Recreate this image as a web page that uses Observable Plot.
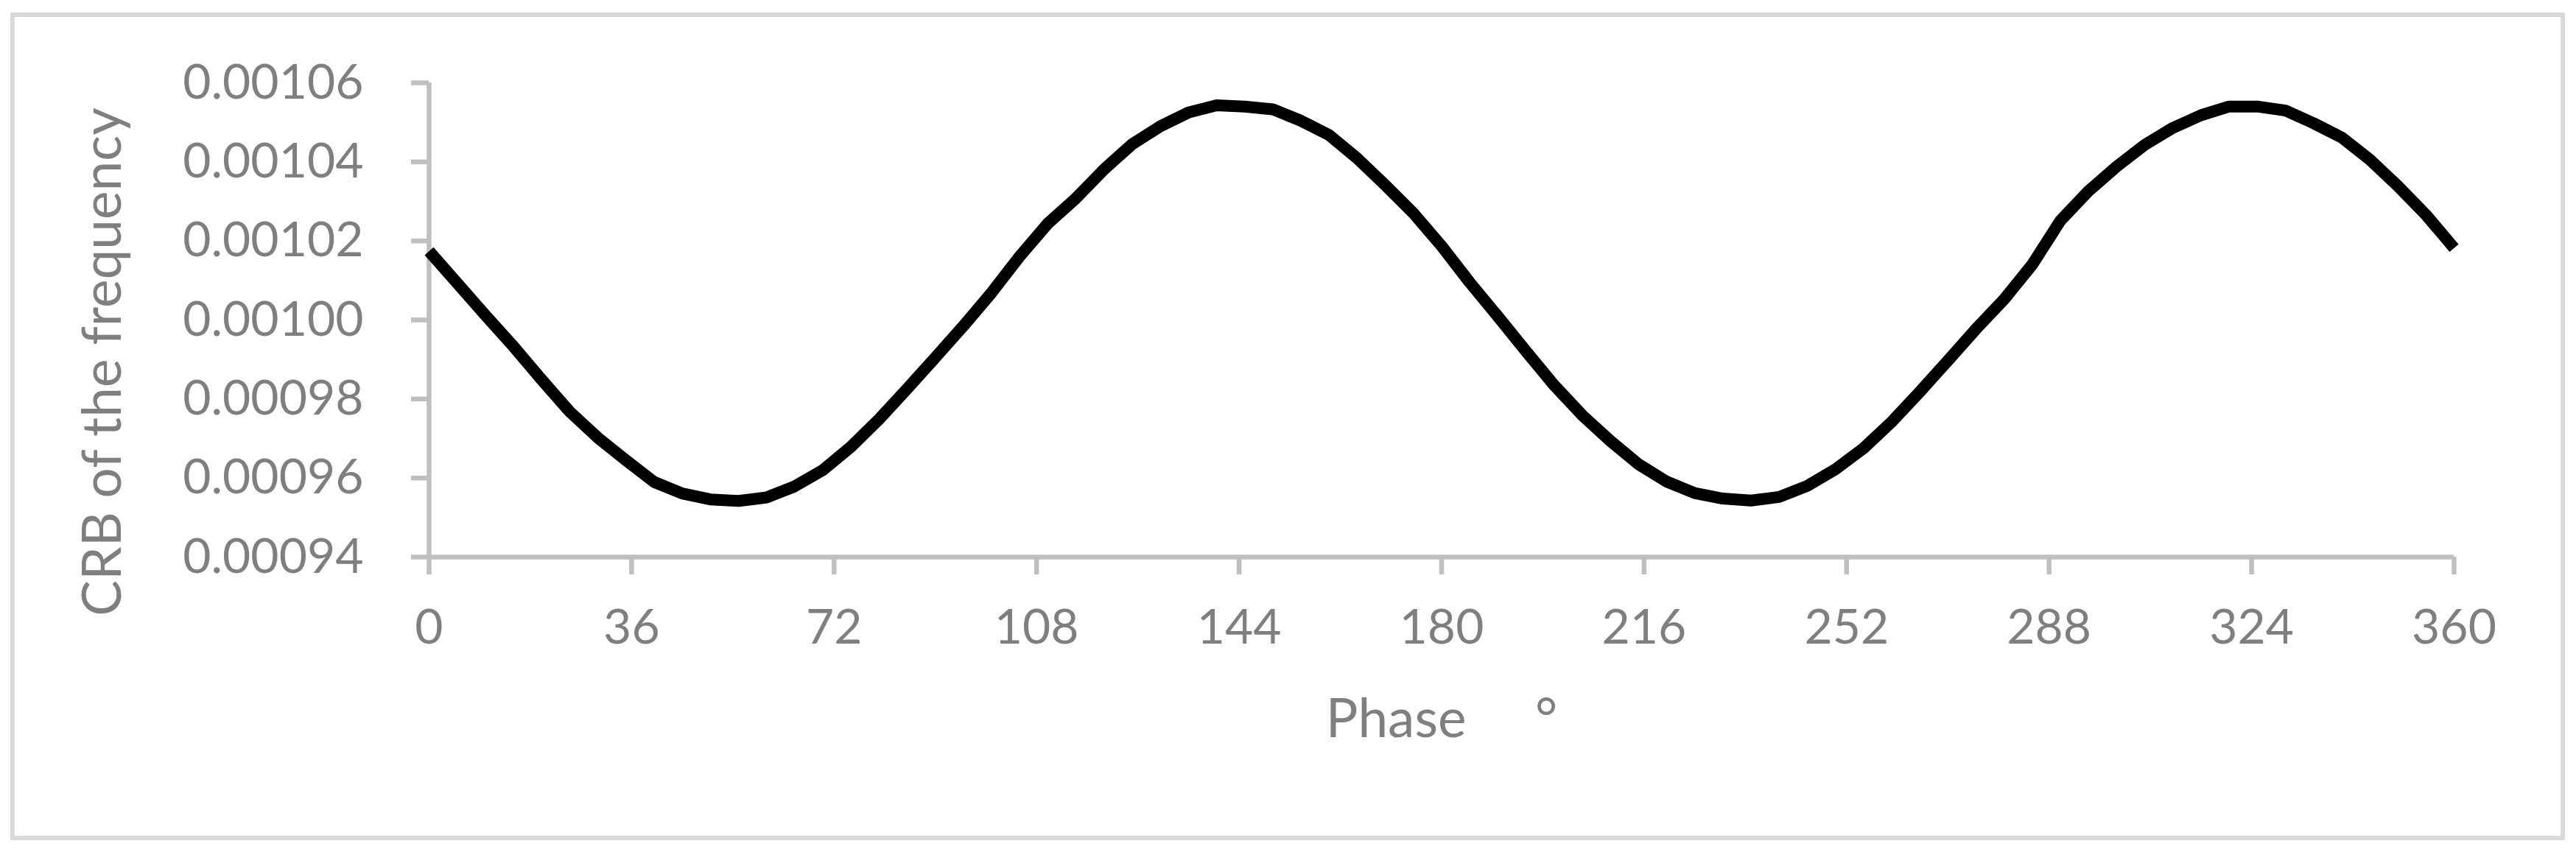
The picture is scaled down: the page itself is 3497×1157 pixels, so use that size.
<!DOCTYPE html>
<html>
<head>
<meta charset="utf-8">
<script src="https://cdn.jsdelivr.net/npm/d3@7"></script>
<script src="https://cdn.jsdelivr.net/npm/@observablehq/plot@0.6"></script>
<style>
html, body { margin: 0; padding: 0; background: #ffffff; }
#wrap { position: relative; width: 3497px; height: 1157px; overflow: hidden; }
#frame { position: absolute; left: 14px; top: 17px; width: 3468px; height: 1124px; box-sizing: border-box; border: 6.5px solid #d9d9d9; pointer-events: none; }
#chart { position: absolute; left: 0; top: 0; }
svg text { font-family: Lato, "Open Sans", sans-serif; white-space: pre; }
</style>
</head>
<body>
<div id="wrap"><div id="frame"></div><div id="chart"></div></div>
<script>
const phaseDeg = [0, 5, 10, 15, 20, 25, 30, 35, 40, 45, 50, 55, 60, 65, 70, 75, 80, 85, 90, 95,
  100, 105, 110, 115, 120, 125, 130, 135, 140, 145, 150, 155, 160, 165, 170, 175, 180, 185, 190, 195,
  200, 205, 210, 215, 220, 225, 230, 235, 240, 245, 250, 255, 260, 265, 270, 275, 280, 285, 290, 295,
  300, 305, 310, 315, 320, 325, 330, 335, 340, 345, 350, 355, 360];
const crbFreq = [0.0010174, 0.0010093, 0.0010012, 0.0009933, 0.0009849, 0.0009768, 0.0009702, 0.0009645, 0.0009590, 0.0009561,
  0.0009546, 0.0009542, 0.0009551, 0.0009579, 0.0009620, 0.0009679, 0.0009749, 0.0009826, 0.0009905, 0.0009985,
  0.0010069, 0.0010161, 0.0010244, 0.0010308, 0.0010381, 0.0010445, 0.0010490, 0.0010525, 0.0010543, 0.0010540,
  0.0010533, 0.0010504, 0.0010468, 0.0010409, 0.0010341, 0.0010270, 0.0010187, 0.0010095, 0.0010009, 0.0009921,
  0.0009835, 0.0009759, 0.0009694, 0.0009635, 0.0009591, 0.0009562, 0.0009548, 0.0009543, 0.0009552, 0.0009580,
  0.0009622, 0.0009675, 0.0009742, 0.0009818, 0.0009897, 0.0009977, 0.0010052, 0.0010140, 0.0010251, 0.0010326,
  0.0010388, 0.0010443, 0.0010486, 0.0010518, 0.0010540, 0.0010540, 0.0010530, 0.0010498, 0.0010462, 0.0010406,
  0.0010339, 0.0010266, 0.0010182];
const xTicks = [0, 36, 72, 108, 144, 180, 216, 252, 288, 324, 360];
const yTicks = [0.00094, 0.00096, 0.00098, 0.00100, 0.00102, 0.00104, 0.00106];
const xTitle = "Phase     \u00B0";
const yTitle = "CRB of the frequency";

const data = phaseDeg.map((p, i) => ({phase: p, crb: crbFreq[i]}));

const axisGray = "#bfbfbf";
const textGray = "#7f7f7f";

const plot = Plot.plot({
  width: 3497,
  height: 1157,
  marginLeft: 582,
  marginRight: 166,
  marginTop: 112,
  marginBottom: 401,
  style: {fontFamily: "Lato, 'Open Sans', sans-serif", fontSize: "66px", color: textGray, background: "transparent", overflow: "visible"},
  x: {domain: [0, 360]},
  y: {domain: [0.00094, 0.00106]},
  marks: [
    Plot.axisY(yTicks, {tickSize: 24, tickPadding: 65, tickFormat: d3.format(".5f"), stroke: axisGray, strokeWidth: 6.5, fill: textGray, label: null}),
    Plot.axisX(xTicks, {tickSize: 24, tickPadding: 47, tickFormat: d => String(d), stroke: axisGray, strokeWidth: 6.5, fill: textGray, label: null}),
    Plot.ruleX([0], {stroke: axisGray, strokeWidth: 6.5}),
    Plot.ruleY([0.00094], {stroke: axisGray, strokeWidth: 6.5}),
    Plot.line(data, {x: "phase", y: "crb", stroke: "#000000", strokeWidth: 16, strokeLinecap: "butt", strokeLinejoin: "round"}),
    Plot.text([xTitle], {text: d => d, frameAnchor: "bottom", dy: 221, fontSize: 73, fill: textGray, textAnchor: "middle", lineAnchor: "middle"}),
    Plot.text([yTitle], {text: d => d, frameAnchor: "left", dx: -442, dy: 57, rotate: -90, fontSize: 73, fill: textGray, textAnchor: "middle", lineAnchor: "middle"})
  ]
});
document.getElementById("chart").appendChild(plot);
</script>
</body>
</html>
